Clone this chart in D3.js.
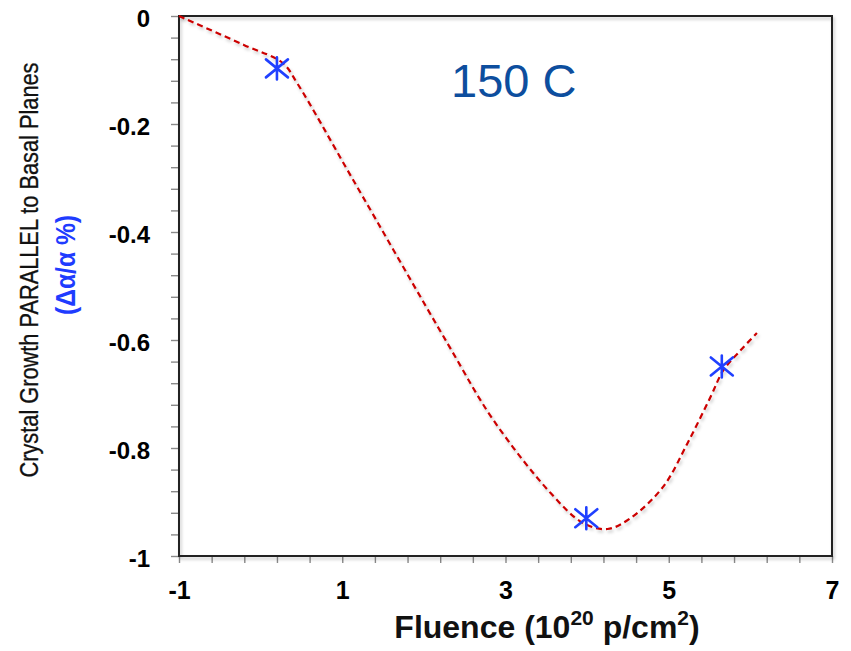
<!DOCTYPE html>
<html>
<head>
<meta charset="utf-8">
<script src="https://cdn.jsdelivr.net/npm/d3@7"></script>
<style>
  html, body { margin: 0; padding: 0; background: #fff; }
  svg { display: block; }
  text { font-family: "Liberation Sans", Arial, sans-serif; }
</style>
</head>
<body>
<svg id="chart" width="851" height="651"></svg>
<script>
// ---- data ----
const pointsX = [0.2, 3.99, 5.65];
const pointsY = [-0.097, -0.93, -0.649];

const curveX = [-1, -0.2, 0.27, 0.45, 1.12, 2.3, 2.85, 3.55, 3.95, 4.25, 4.53, 4.93, 5.23, 5.51, 5.67, 5.88, 6.08];
const curveY = [0, -0.054, -0.087, -0.125, -0.30, -0.609, -0.748, -0.883, -0.939, -0.950, -0.930, -0.872, -0.791, -0.706, -0.656, -0.619, -0.587];

const xTickValues = [-1, 1, 3, 5, 7];
const xTickLabels = ["-1", "1", "3", "5", "7"];
const yTickValues = [0, -0.2, -0.4, -0.6, -0.8, -1];
const yTickLabels = ["0", "-0.2", "-0.4", "-0.6", "-0.8", "-1"];

// ---- layout ----
const svg = d3.select("#chart");
const pLeft = 179, pRight = 832, pTop = 16, pBottom = 556;

const x = d3.scaleLinear().domain([-1, 7]).range([pLeft, pRight]);
const y = d3.scaleLinear().domain([-1, 0]).range([pBottom, pTop]);

const defs = svg.append("defs");
const f = defs.append("filter").attr("id", "shadow")
  .attr("x", "-10%").attr("y", "-10%").attr("width", "130%").attr("height", "130%");
f.append("feDropShadow").attr("dx", 1.5).attr("dy", 2.5).attr("stdDeviation", 1.6)
  .attr("flood-color", "#000").attr("flood-opacity", 0.22);

// minor ticks
const xMinor = d3.range(0, 21).map(i => -1 + i * 0.4);
const yMinor = d3.range(0, 26).map(i => -i * 0.04);

const gxMinor = svg.append("g").attr("transform", `translate(0,${pBottom})`)
  .call(d3.axisBottom(x).tickValues(xMinor).tickSize(7).tickFormat(""));
const gyMinor = svg.append("g").attr("transform", `translate(${pLeft},0)`)
  .call(d3.axisLeft(y).tickValues(yMinor).tickSize(8).tickFormat(""));
[gxMinor, gyMinor].forEach(g => {
  g.select(".domain").remove();
  g.selectAll("line").attr("stroke", "#8a8a8a").attr("stroke-width", 1.4);
});

// tick labels
const gx = svg.append("g").attr("transform", `translate(0,${pBottom})`)
  .call(d3.axisBottom(x).tickValues(xTickValues).tickSize(0).tickPadding(25)
    .tickFormat((d, i) => xTickLabels[i]));
gx.select(".domain").remove();
gx.selectAll("text").attr("font-size", 25).attr("font-weight", "bold")
  .attr("fill", "#000").attr("font-family", "Liberation Sans, Arial, sans-serif");

const gy = svg.append("g").attr("transform", `translate(${pLeft},0)`)
  .call(d3.axisLeft(y).tickValues(yTickValues).tickSize(0).tickPadding(29)
    .tickFormat((d, i) => yTickLabels[i]));
gy.select(".domain").remove();
gy.selectAll("text").attr("font-size", 24).attr("font-weight", "bold")
  .attr("fill", "#000").attr("dy", "0.42em")
  .attr("font-family", "Liberation Sans, Arial, sans-serif");

// frame
svg.append("rect")
  .attr("x", pLeft).attr("y", pTop)
  .attr("width", pRight - pLeft).attr("height", pBottom - pTop)
  .attr("fill", "none").attr("stroke", "#222").attr("stroke-width", 2)
  .attr("filter", "url(#shadow)");

// dashed curve
const line = d3.line().x(d => x(d[0])).y(d => y(d[1])).curve(d3.curveCatmullRom.alpha(0.5));
svg.append("path")
  .datum(curveX.map((v, i) => [v, curveY[i]]))
  .attr("d", line)
  .attr("fill", "none").attr("stroke", "#cc0000").attr("stroke-width", 2.2)
  .attr("stroke-dasharray", "6,4")
  .attr("filter", "url(#shadow)");

// asterisk markers
svg.append("g").selectAll("path")
  .data(pointsX.map((v, i) => [v, pointsY[i]]))
  .join("path")
  .attr("d", d => {
    const cx = x(d[0]), cy = y(d[1]);
    return `M${cx},${cy - 11}L${cx},${cy + 11}` +
           `M${cx - 11},${cy + 9}L${cx + 11},${cy - 9}` +
           `M${cx - 11},${cy - 9}L${cx + 11},${cy + 9}`;
  })
  .attr("fill", "none").attr("stroke", "#2040ff").attr("stroke-width", 2.6)
  .attr("stroke-linecap", "round");

// annotation
svg.append("text").attr("x", 451).attr("y", 97)
  .attr("font-size", 47).attr("fill", "#0d4e9e")
  .text("150 C");

// x title
const xt = svg.append("text").attr("x", 547).attr("y", 638)
  .attr("text-anchor", "middle").attr("font-size", 32).attr("font-weight", "bold")
  .attr("fill", "#111");
xt.append("tspan").text("Fluence (10");
xt.append("tspan").attr("font-size", 21).attr("dy", -13).text("20");
xt.append("tspan").attr("dy", 13).text(" p/cm");
xt.append("tspan").attr("font-size", 21).attr("dy", -13).text("2");
xt.append("tspan").attr("dy", 13).text(")");

// y title
svg.append("text")
  .attr("transform", "translate(38,270) rotate(-90)")
  .attr("text-anchor", "middle").attr("font-size", 25).attr("fill", "#111")
  .attr("stroke", "#111").attr("stroke-width", 0.3)
  .attr("textLength", 415).attr("lengthAdjust", "spacingAndGlyphs")
  .text("Crystal Growth PARALLEL to Basal Planes");
svg.append("text")
  .attr("transform", "translate(75,265) rotate(-90)")
  .attr("text-anchor", "middle").attr("font-size", 28).attr("font-weight", "bold")
  .attr("fill", "#1f3cff")
  .attr("textLength", 100).attr("lengthAdjust", "spacingAndGlyphs")
  .text("(Δα/α %)");
</script>
</body>
</html>
